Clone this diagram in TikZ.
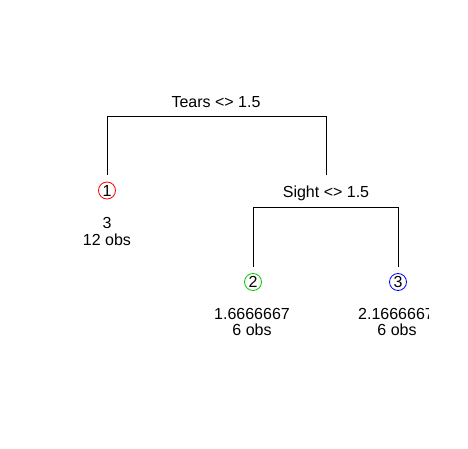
\documentclass[tikz,border=0pt]{standalone}
\usepackage{fontspec}
\setmainfont{Liberation Sans}
\definecolor{rgreen}{RGB}{0,205,0}
\tikzset{
  lbl/.style={inner sep=0pt, anchor=base, font=\fontsize{16}{17}\selectfont},
  leafcirc/.style={circle, draw, line width=0.8pt, minimum size=17pt, inner sep=0pt, font=\fontsize{16}{17}\selectfont},
  edge/.style={line width=1pt, line cap=rect}
}
\begin{document}
\begin{tikzpicture}[x=1pt,y=-1pt]
\useasboundingbox (0,0) rectangle (468,449);
% split 1
\node[lbl] (split1) at (216,108) {Tears <> 1.5};
\coordinate (a1) at (107,175);
\coordinate (a2) at (107,117);
\coordinate (a3) at (326,117);
\coordinate (a4) at (326,175);
\draw[edge] (a1) -- (a2) -- (a3) -- (a4);
% split 2
\node[lbl] (split2) at (326,197) {Sight <> 1.5};
\coordinate (b1) at (253,266);
\coordinate (b2) at (253,207);
\coordinate (b3) at (398,207);
\coordinate (b4) at (398,266);
\draw[edge] (b1) -- (b2) -- (b3) -- (b4);
% leaves
\node[leafcirc, draw=red] (leaf1) at (107,190.5) {1};
\node[leafcirc, draw=rgreen] (leaf2) at (253,282) {2};
\node[leafcirc, draw=blue] (leaf3) at (398,282) {3};
\begin{scope}
\clip (0,0) rectangle (428,449);
\node[lbl] (val1) at (107,228) {3};
\node[lbl] (obs1) at (107,245) {12 obs};
\node[lbl] (val2) at (252,319) {1.6666667};
\node[lbl] (obs2) at (252,335) {6 obs};
\node[lbl] (val3) at (396,319) {2.1666667};
\node[lbl] (obs3) at (397,335) {6 obs};
\end{scope}
\end{tikzpicture}
\end{document}
